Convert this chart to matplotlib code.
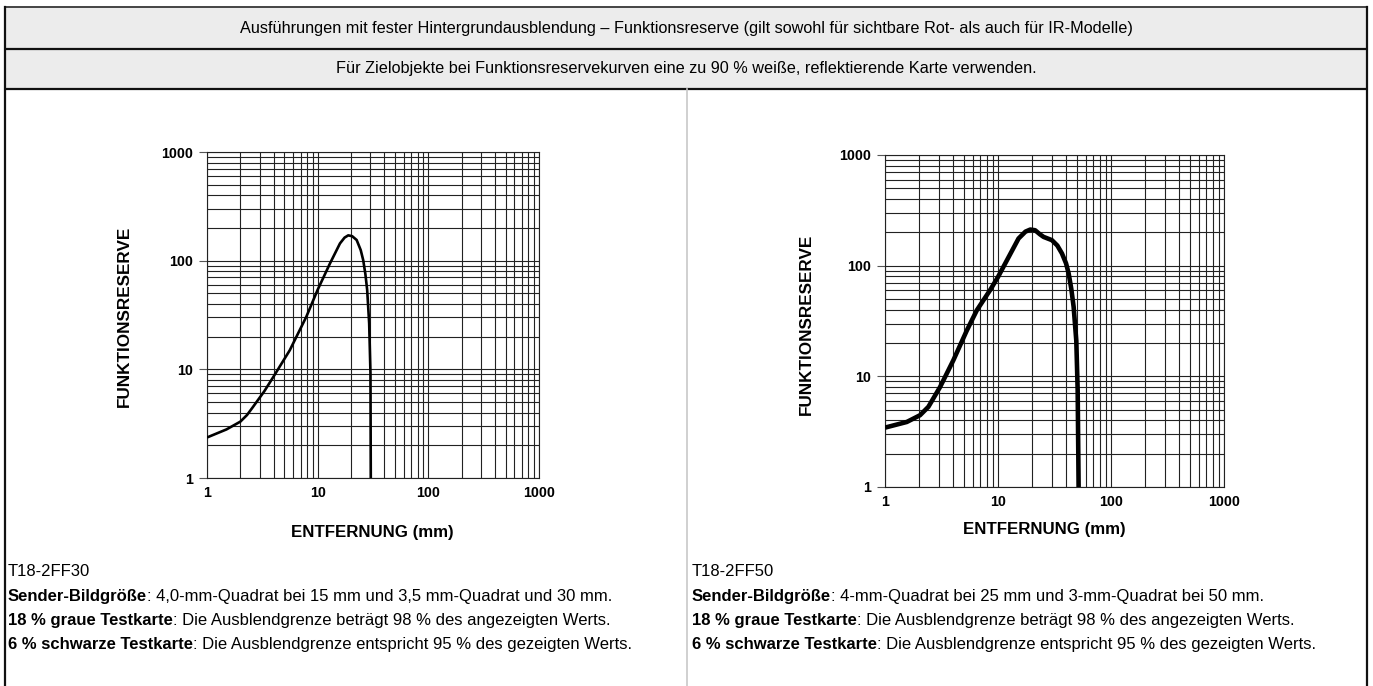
import matplotlib.pyplot as plt
import numpy as np
from matplotlib.patches import Rectangle

plt.rcParams['font.family'] = ['Liberation Sans', 'DejaVu Sans']

W, H = 1373, 686

# curve T18-2FF30
dist_30 = [1.0, 1.5, 2.0, 2.3, 2.6, 3.3, 4.0, 5.6, 7.9, 10.0, 12.9, 15.9, 17.5, 18.9, 20.5, 22.5, 24.5, 25.8, 27.0, 28.0, 29.2, 30.0, 30.2]
res_30 = [2.36, 2.8, 3.3, 3.8, 4.5, 6.3, 8.6, 15, 30.5, 54, 94, 144, 163, 171, 168, 155, 125, 101, 75, 54, 26.5, 9.2, 1.0]

# curve T18-2FF50
dist_50 = [1.0, 1.56, 2.04, 2.42, 3.07, 4.03, 5.3, 6.5, 8.5, 10.0, 12.0, 15.2, 17.5, 19.3, 21.3, 23.5, 25.3, 30.0, 33.5, 36.8, 40.0, 42.2, 44.5, 46.7, 49.3, 50.7, 51.7]
res_50 = [3.44, 3.87, 4.45, 5.3, 8.0, 14, 26, 39.6, 60, 79, 112, 176, 203, 212, 209, 192, 182, 170, 152, 129, 105, 85, 62, 42.5, 21, 7.5, 1.0]

ticks = [1, 10, 100, 1000]
tick_labels = ['1', '10', '100', '1000']

header1 = 'Ausführungen mit fester Hintergrundausblendung – Funktionsreserve (gilt sowohl für sichtbare Rot- als auch für IR-Modelle)'
header2 = 'Für Zielobjekte bei Funktionsreservekurven eine zu 90 % weiße, reflektierende Karte verwenden.'

notes_left = ['T18-2FF30',
              ('Sender-Bildgröße', ': 4,0-mm-Quadrat bei 15 mm und 3,5 mm-Quadrat und 30 mm.'),
              ('18 % graue Testkarte', ': Die Ausblendgrenze beträgt 98 % des angezeigten Werts.'),
              ('6 % schwarze Testkarte', ': Die Ausblendgrenze entspricht 95 % des gezeigten Werts.')]
notes_right = ['T18-2FF50',
               ('Sender-Bildgröße', ': 4-mm-Quadrat bei 25 mm und 3-mm-Quadrat bei 50 mm.'),
               ('18 % graue Testkarte', ': Die Ausblendgrenze beträgt 98 % des angezeigten Werts.'),
               ('6 % schwarze Testkarte', ': Die Ausblendgrenze entspricht 95 % des gezeigten Werts.')]

fig = plt.figure(figsize=(W / 100, H / 100), dpi=100)
renderer = fig.canvas.get_renderer()

# background layer in pixel coordinates
bg = fig.add_axes([0, 0, 1, 1], zorder=0)
bg.set_xlim(0, W)
bg.set_ylim(H, 0)
bg.axis('off')

lw = 1.6
bg.add_patch(Rectangle((5, 7), 1362, 82, facecolor='#ececec', edgecolor='none'))
bg.plot([5, 1367], [7, 7], color='#444444', lw=1.4, solid_capstyle='butt')
for y in [49, 89]:
    bg.plot([5, 1367], [y, y], color='#111111', lw=lw, solid_capstyle='butt')
bg.plot([5, 5], [7, H], color='#111111', lw=lw)
bg.plot([1367, 1367], [7, H], color='#111111', lw=lw)
bg.plot([687, 687], [89, H], color='#c8c8c8', lw=1.2)

bg.text(686, 28, header1, ha='center', va='center', fontsize=11.7)
bg.text(686, 69, header2, ha='center', va='center', fontsize=11.7)


def notes(x, lines):
    ys = [576, 601, 625, 649]  # baselines
    fs = 12
    bg.text(x, ys[0], lines[0], ha='left', va='baseline', fontsize=fs)
    for (b, r), y in zip(lines[1:], ys[1:]):
        t = bg.text(x, y, b, ha='left', va='baseline', fontsize=fs, fontweight='bold')
        wpx = t.get_window_extent(renderer).width
        bg.text(x + wpx, y, r, ha='left', va='baseline', fontsize=fs)


notes(8, notes_left)
notes(692, notes_right)


def chart(rect, xs, ys, lwc, xlab_pos, ylab_pos):
    l, t, w, h = rect
    ax = fig.add_axes([l / W, 1 - (t + h) / H, w / W, h / H], zorder=2)
    ax.set_xscale('log')
    ax.set_yscale('log')
    ax.set_xlim(1, 1000)
    ax.set_ylim(1, 1000)
    ax.grid(True, which='both', color='#222222', lw=0.8)
    ax.set_xticks(ticks)
    ax.set_xticklabels(tick_labels)
    ax.set_yticks(ticks)
    ax.set_yticklabels(tick_labels)
    ax.tick_params(which='minor', length=0)
    ax.tick_params(axis='y', which='major', length=6, color='#555555', pad=4)
    ax.tick_params(axis='x', which='major', length=0, pad=6)
    for lab in ax.get_xticklabels() + ax.get_yticklabels():
        lab.set_fontweight('bold')
        lab.set_fontsize(10.3)
    for s in ax.spines.values():
        s.set_color('#222222')
        s.set_linewidth(0.8)
    ax.plot(xs, ys, color='black', lw=lwc, solid_capstyle='butt',
            solid_joinstyle='round', zorder=3)
    ax.set_xlabel('ENTFERNUNG (mm)', fontweight='bold', fontsize=12.2, va='center')
    ax.set_ylabel('FUNKTIONSRESERVE', fontweight='bold', fontsize=12.3, va='center')
    ax.xaxis.set_label_coords(*xlab_pos)
    ax.yaxis.set_label_coords(*ylab_pos)
    return ax


chart((207, 152, 332, 326), dist_30, res_30, 1.9, (0.497, -0.166), (-0.25, 0.495))
chart((885, 155, 339, 332), dist_50, res_50, 3.3, (0.469, -0.127), (-0.233, 0.49))

fig.savefig('out.png', dpi=100)
